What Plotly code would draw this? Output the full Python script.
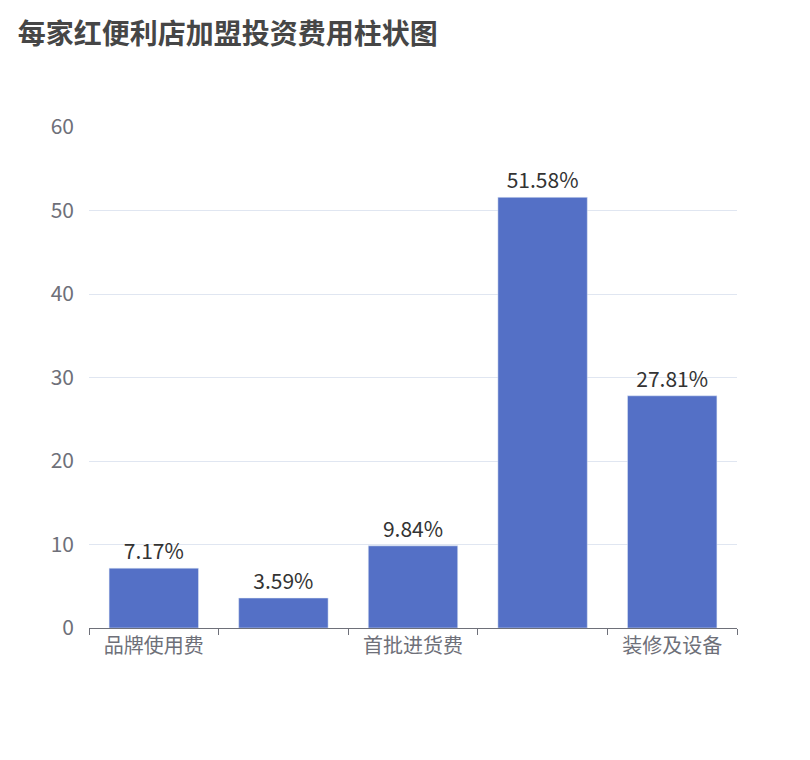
import plotly.graph_objects as go

categories = ["品牌使用费", "加盟费", "首批进货费", "房租", "装修及设备"]
values = [7.17, 3.59, 9.84, 51.58, 27.81]
tick_labels = ["品牌使用费", "", "首批进货费", "", "装修及设备"]

fig = go.Figure(go.Bar(
    x=categories, y=values, marker_color="#5470c6", width=0.69,
    text=[f"{v}%" for v in values], textposition="outside", cliponaxis=False,
    textfont=dict(size=21, color="#333"),
))
fig.update_layout(
    width=810, height=760, plot_bgcolor="white", paper_bgcolor="white",
    margin=dict(l=81, r=81, t=119, b=140, autoexpand=False),
    font=dict(family="Noto Sans CJK SC", color="#6e7079"),
    title=dict(text="<b>每家红便利店加盟投资费用柱状图</b>", x=0.012, xanchor="left",
               y=0.965, yanchor="middle", font=dict(size=28, color="#464646")),
    showlegend=False,
)
fig.update_xaxes(type="category", tickvals=categories, ticktext=tick_labels,
                 tickson="boundaries", ticks="outside", ticklen=6, tickcolor="#6e7079",
                 showline=True, linecolor="#6e7079", automargin=False,
                 tickfont=dict(size=20, color="#6e7079"))
fig.update_yaxes(range=[0, 60], dtick=10, gridcolor="#e0e6f1", zeroline=False,
                 automargin=False, tickfont=dict(size=21, color="#6e7079"),
                 ticklabelstandoff=14)
fig.write_html("out.html")
